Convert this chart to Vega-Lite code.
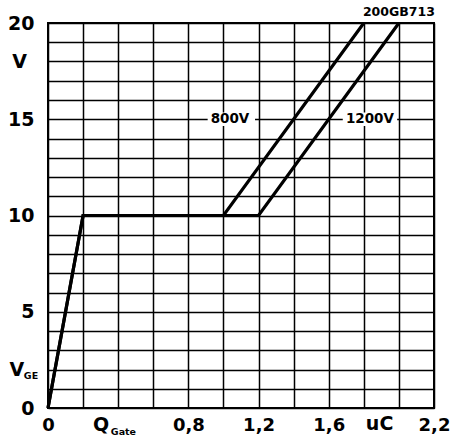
{
  "$schema": "https://vega.github.io/schema/vega-lite/v6.json",
  "width": 386,
  "height": 385,
  "autosize": "none",
  "padding": {"left": 48, "top": 23, "right": 21, "bottom": 35},
  "background": "white",
  "config": {
    "view": {"stroke": "black", "strokeWidth": 2},
    "font": "DejaVu Sans",
    "text": {"font": "DejaVu Sans", "fontWeight": "bold", "color": "black"}
  },
  "datasets": {
    "curves": [
      {"series": "800V", "x": 0, "y": 0},
      {"series": "800V", "x": 0.2, "y": 10},
      {"series": "800V", "x": 1.0, "y": 10},
      {"series": "800V", "x": 1.8, "y": 20},
      {"series": "1200V", "x": 0, "y": 0},
      {"series": "1200V", "x": 0.2, "y": 10},
      {"series": "1200V", "x": 1.2, "y": 10},
      {"series": "1200V", "x": 2.0, "y": 20}
    ],
    "masks": [
      {"x": 0.91, "x2": 1.18, "y": 14.65, "y2": 15.35},
      {"x": 1.68, "x2": 1.99, "y": 14.65, "y2": 15.35}
    ],
    "bigText": [
      {"text": "V", "x": -0.162, "y": 18},
      {"text": "V", "x": -0.177, "y": 1.97},
      {"text": "Q", "x": 0.302, "y": -0.88},
      {"text": "uC", "x": 1.89, "y": -0.83}
    ],
    "subText": [
      {"text": "GE", "x": -0.097, "y": 1.66},
      {"text": "Gate", "x": 0.43, "y": -1.27}
    ],
    "curveText": [
      {"text": "800V", "x": 1.037, "y": 15},
      {"text": "1200V", "x": 1.835, "y": 15}
    ],
    "modelText": [
      {"text": "200GB713", "x": 2.0, "y": 20.57}
    ]
  },
  "encoding": {
    "x": {
      "field": "x",
      "type": "quantitative",
      "scale": {"domain": [0, 2.2], "nice": false, "zero": false},
      "axis": {
        "values": [0, 0.2, 0.4, 0.6, 0.8, 1.0, 1.2, 1.4, 1.6, 1.8, 2.0, 2.2],
        "grid": true, "gridColor": "black", "gridWidth": 1.5, "gridOpacity": 1,
        "domain": false, "ticks": false, "title": null,
        "labelExpr": "(datum.value == 0 || datum.value == 0.8 || datum.value == 1.2 || datum.value == 1.6 || datum.value == 2.2) ? replace(toString(datum.value), '.', ',') : ''",
        "labelFont": "DejaVu Sans", "labelFontWeight": "bold", "labelFontSize": 18,
        "labelColor": "black", "labelPadding": 8, "labelFlush": false, "labelOverlap": false
      }
    },
    "y": {
      "field": "y",
      "type": "quantitative",
      "scale": {"domain": [0, 20], "nice": false, "zero": false},
      "axis": {
        "values": [0,1,2,3,4,5,6,7,8,9,10,11,12,13,14,15,16,17,18,19,20],
        "grid": true, "gridColor": "black", "gridWidth": 1.5, "gridOpacity": 1,
        "domain": false, "ticks": false, "title": null,
        "labelExpr": "datum.value % 5 == 0 ? datum.label : ''",
        "labelFont": "DejaVu Sans", "labelFontWeight": "bold", "labelFontSize": 19,
        "labelColor": "black", "labelPadding": 14, "labelFlush": false, "labelOverlap": false
      }
    }
  },
  "layer": [
    {
      "data": {"name": "masks"},
      "mark": {"type": "rect", "color": "white", "opacity": 1},
      "encoding": {"x2": {"field": "x2"}, "y2": {"field": "y2"}}
    },
    {
      "data": {"name": "curves"},
      "mark": {"type": "line", "stroke": "black", "strokeWidth": 3.2, "clip": false},
      "encoding": {"detail": {"field": "series"}}
    },
    {
      "data": {"name": "bigText"},
      "mark": {"type": "text", "fontSize": 19, "align": "center", "baseline": "middle"},
      "encoding": {"text": {"field": "text"}}
    },
    {
      "data": {"name": "subText"},
      "mark": {"type": "text", "fontSize": 9.5, "align": "center", "baseline": "middle"},
      "encoding": {"text": {"field": "text"}}
    },
    {
      "data": {"name": "curveText"},
      "mark": {"type": "text", "fontSize": 13.5, "align": "center", "baseline": "middle"},
      "encoding": {"text": {"field": "text"}}
    },
    {
      "data": {"name": "modelText"},
      "mark": {"type": "text", "fontSize": 12.5, "align": "center", "baseline": "middle"},
      "encoding": {"text": {"field": "text"}}
    }
  ]
}
